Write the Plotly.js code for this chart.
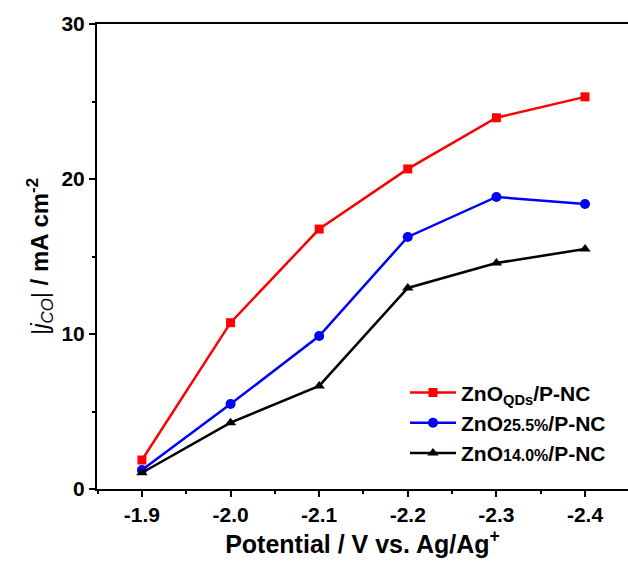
<!DOCTYPE html>
<html>
<head>
<meta charset="utf-8">
<script src="https://cdn.plot.ly/plotly-3.0.1.min.js"></script>
<style>
html,body{margin:0;padding:0;background:#fff;}
#chart{width:628px;height:563px;}
#chart .xtick text, #chart .ytick text {font-weight: bold !important;}
</style>
</head>
<body>
<div id="chart"></div>
<script>
const potentials = [-1.9, -2.0, -2.1, -2.2, -2.3, -2.4];
const tickLabels = ["-1.9", "-2.0", "-2.1", "-2.2", "-2.3", "-2.4"];
const yTickVals = [0, 10, 20, 30];
const yTickLabels = ["0", "10", "20", "30"];
const jQDs = [1.87, 10.73, 16.77, 20.65, 23.95, 25.3];
const j255 = [1.23, 5.48, 9.87, 16.26, 18.84, 18.39];
const j140 = [1.05, 4.28, 6.65, 12.97, 14.58, 15.48];
const names = [
  "<b>ZnO<sub>QDs</sub>/P-NC</b>",
  "<b>ZnO<span style=\"font-size:16px\">25.5%</span>/P-NC</b>",
  "<b>ZnO<span style=\"font-size:16px\">14.0%</span>/P-NC</b>"
];

const traces = [
  {x: potentials, y: jQDs, name: names[0], mode: "lines+markers",
   line: {color: "#ff0000", width: 2.5}, marker: {symbol: "square", size: 9, color: "#ff0000"}},
  {x: potentials, y: j255, name: names[1], mode: "lines+markers",
   line: {color: "#0000ff", width: 2.5}, marker: {symbol: "circle", size: 10, color: "#0000ff"}},
  {x: potentials, y: j140, name: names[2], mode: "lines+markers",
   line: {color: "#000000", width: 2.5}, marker: {symbol: "triangle-up", size: 10, color: "#000000"}}
];

const F = "Arial, 'Liberation Sans', sans-serif";
const layout = {
  width: 628, height: 563,
  margin: {l: 97, r: 0, t: 24, b: 74},
  paper_bgcolor: "#fff", plot_bgcolor: "#fff",
  font: {family: F, color: "#000"},
  showlegend: true,
  legend: {x: 0.58, y: 0.251, xanchor: "left", yanchor: "top",
           font: {size: 21, color: "#000", family: F}, bgcolor: "rgba(0,0,0,0)", itemwidth: 46, tracegroupgap: 0},
  xaxis: {
    range: [-1.8493, -2.4485], autorange: false,
    tickvals: potentials, ticktext: tickLabels,
    showline: true, linewidth: 2, linecolor: "#000", mirror: true,
    ticks: "outside", ticklen: 6, tickwidth: 2, tickcolor: "#000",
    tickfont: {size: 21, family: F, weight: 700, color: "#000"},
    showgrid: false, zeroline: false,
    minor: {ticks: "outside", ticklen: 3, tickwidth: 2, tickcolor: "#000", dtick: 0.05, tick0: -1.9, showgrid: false},
    title: {text: "<b>Potential / V vs. Ag/Ag<sup>+</sup></b>", font: {size: 25, family: F}, standoff: 2}
  },
  yaxis: {
    range: [0, 30], autorange: false,
    tickvals: yTickVals, ticktext: yTickLabels,
    showline: true, linewidth: 2, linecolor: "#000",
    ticks: "outside", ticklen: 6, tickwidth: 2, tickcolor: "#000",
    tickfont: {size: 21, family: F, weight: 700, color: "#000"},
    showgrid: false, zeroline: false,
    minor: {ticks: "outside", ticklen: 3, tickwidth: 2, tickcolor: "#000", dtick: 5, tick0: 0, showgrid: false},
    title: {text: "|<i>j</i><sub><i>CO</i></sub>| <b>/ mA cm<sup>-2</sup></b>", font: {size: 24, family: F}, standoff: 6}
  }
};

Plotly.newPlot("chart", traces, layout, {displayModeBar: false, staticPlot: true});
</script>
</body>
</html>
